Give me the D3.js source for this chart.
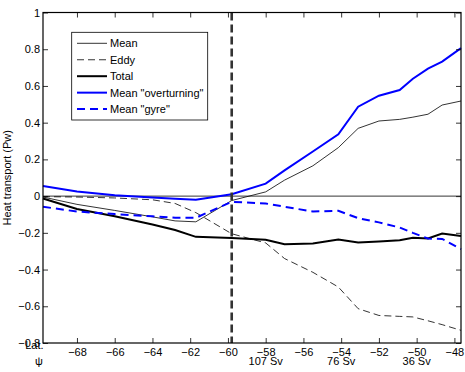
<!DOCTYPE html>
<html>
<head>
<meta charset="utf-8">
<script src="https://cdn.jsdelivr.net/npm/d3@7"></script>
<style>
  body { margin: 0; background: #fff; }
  svg text { font-family: "Liberation Sans", Arial, sans-serif; font-size: 11px; fill: #000; }
</style>
</head>
<body>
<div id="chart"></div>
<script>
// latitude of each sample
const lat = [-69.8, -68, -66, -64, -62.8, -61.7, -59.8, -58, -57, -55.5, -54.15, -53.1, -52, -50.9, -50.2, -49.4, -48.65, -47.65];

// heat transport (Pw)
const meanHT = [-0.005, -0.045, -0.078, -0.113, -0.135, -0.14, -0.024, 0.023, 0.087, 0.165, 0.264, 0.369, 0.409, 0.418, 0.43, 0.446, 0.496, 0.518];
const eddyHT = [-0.003, -0.005, -0.01, -0.02, -0.04, -0.09, -0.205, -0.255, -0.34, -0.415, -0.495, -0.613, -0.65, -0.655, -0.658, -0.679, -0.70, -0.731];
const totalHT = [-0.013, -0.07, -0.11, -0.155, -0.185, -0.222, -0.228, -0.238, -0.262, -0.258, -0.236, -0.253, -0.247, -0.24, -0.227, -0.231, -0.204, -0.217];
const overturningHT = [0.055, 0.025, 0.005, -0.008, -0.015, -0.02, 0.01, 0.068, 0.14, 0.243, 0.337, 0.487, 0.547, 0.578, 0.639, 0.694, 0.733, 0.806];
const gyreHT = [-0.058, -0.084, -0.098, -0.11, -0.118, -0.118, -0.031, -0.04, -0.058, -0.084, -0.08, -0.12, -0.143, -0.171, -0.2, -0.231, -0.233, -0.289];

const xTicks = [-68, -66, -64, -62, -60, -58, -56, -54, -52, -50, -48];
const yTicks = [-0.8, -0.6, -0.4, -0.2, 0, 0.2, 0.4, 0.6, 0.8, 1];
const svLats = [-58, -54, -50];
const svLabels = ["107 Sv", "76 Sv", "36 Sv"];
const markerLat = -59.8;

const seriesNames = ["Mean", "Eddy", "Total", "Mean \"overturning\"", "Mean \"gyre\""];
const seriesValues = [meanHT, eddyHT, totalHT, overturningHT, gyreHT];
const seriesStyle = [
  { color: "#000", width: 0.8, dash: null },
  { color: "#000", width: 0.8, dash: "7,4" },
  { color: "#000", width: 2, dash: null },
  { color: "#0000ff", width: 2, dash: null },
  { color: "#0000ff", width: 2, dash: "8,5" }
];

const width = 465;
const height = 372;
const plotLeft = 43, plotRight = 461, plotTop = 12.5, plotBottom = 343;

const xScale = d3.scaleLinear().domain([-69.8, -47.65]).range([plotLeft, plotRight]);
const yScale = d3.scaleLinear().domain([-0.8, 1]).range([plotBottom, plotTop]);

const svg = d3.select("#chart")
  .append("svg")
  .attr("width", width)
  .attr("height", height);

svg.append("rect").attr("width", width).attr("height", height).attr("fill", "#fff");

// zero line
svg.append("line")
  .attr("x1", plotLeft).attr("x2", plotRight)
  .attr("y1", yScale(0)).attr("y2", yScale(0))
  .attr("stroke", "#000").attr("stroke-width", 0.8);

const line = d3.line()
  .x((d, i) => xScale(lat[i]))
  .y(d => yScale(d));

seriesValues.forEach((vals, k) => {
  svg.append("path")
    .datum(vals)
    .attr("d", line)
    .attr("fill", "none")
    .attr("stroke", seriesStyle[k].color)
    .attr("stroke-width", seriesStyle[k].width)
    .attr("stroke-dasharray", seriesStyle[k].dash);
});

// vertical marker
svg.append("line")
  .attr("x1", xScale(markerLat)).attr("x2", xScale(markerLat))
  .attr("y1", plotTop).attr("y2", plotBottom)
  .attr("stroke", "#333").attr("stroke-width", 2.6)
  .attr("stroke-dasharray", "8,4");

// axes, ticks pointing inward like matlab
const fmt = d3.format("~g");

const xAxis = d3.axisBottom(xScale).tickValues(xTicks).tickSizeInner(-5).tickSizeOuter(0).tickPadding(5).tickFormat(fmt);
const xAxisTop = d3.axisTop(xScale).tickValues(xTicks).tickSizeInner(-5).tickSizeOuter(0).tickFormat("");
const yAxis = d3.axisLeft(yScale).tickValues(yTicks).tickSizeInner(-5).tickSizeOuter(0).tickPadding(3).tickFormat(fmt);
const yAxisRight = d3.axisRight(yScale).tickValues(yTicks).tickSizeInner(-5).tickSizeOuter(0).tickFormat("");

svg.append("g").attr("transform", `translate(0, ${plotBottom})`).call(xAxis);
svg.append("g").attr("transform", `translate(0, ${plotTop})`).call(xAxisTop);
svg.append("g").attr("transform", `translate(${plotLeft}, 0)`).call(yAxis);
svg.append("g").attr("transform", `translate(${plotRight}, 0)`).call(yAxisRight);

svg.selectAll(".domain").remove();
svg.selectAll(".tick line").attr("stroke", "#000").attr("stroke-width", 0.8);
svg.selectAll(".tick text").attr("font-size", 11).attr("font-family", null).attr("fill", "#000");

svg.append("rect")
  .attr("x", plotLeft).attr("y", plotTop)
  .attr("width", plotRight - plotLeft).attr("height", plotBottom - plotTop)
  .attr("fill", "none").attr("stroke", "#000").attr("stroke-width", 1.2);

// second row of x labels
svg.selectAll(".sv")
  .data(svLats)
  .enter()
  .append("text")
  .attr("x", d => xScale(d))
  .attr("y", 364.5)
  .attr("text-anchor", "middle")
  .text((d, i) => svLabels[i]);

svg.append("text").attr("x", 43.5).attr("y", 349).attr("text-anchor", "end").text("Lat.");
svg.append("text").attr("x", 39).attr("y", 365).attr("text-anchor", "middle").text("ψ");

svg.append("text")
  .attr("transform", `translate(11, ${(plotTop + plotBottom) / 2}) rotate(-90)`)
  .attr("text-anchor", "middle")
  .text("Heat transport (Pw)");

// legend
const legend = svg.append("g");
legend.append("rect")
  .attr("x", 71.7).attr("y", 32.3)
  .attr("width", 136).attr("height", 87.7)
  .attr("fill", "#fff").attr("stroke", "#000").attr("stroke-width", 0.8);

seriesNames.forEach((name, k) => {
  const y = 43.3 + k * 16.45;
  legend.append("line")
    .attr("x1", 77).attr("x2", 107)
    .attr("y1", y).attr("y2", y)
    .attr("stroke", seriesStyle[k].color)
    .attr("stroke-width", seriesStyle[k].width)
    .attr("stroke-dasharray", seriesStyle[k].dash);
  legend.append("text")
    .attr("x", 110).attr("y", y + 4)
    .text(name);
});
</script>
</body>
</html>
